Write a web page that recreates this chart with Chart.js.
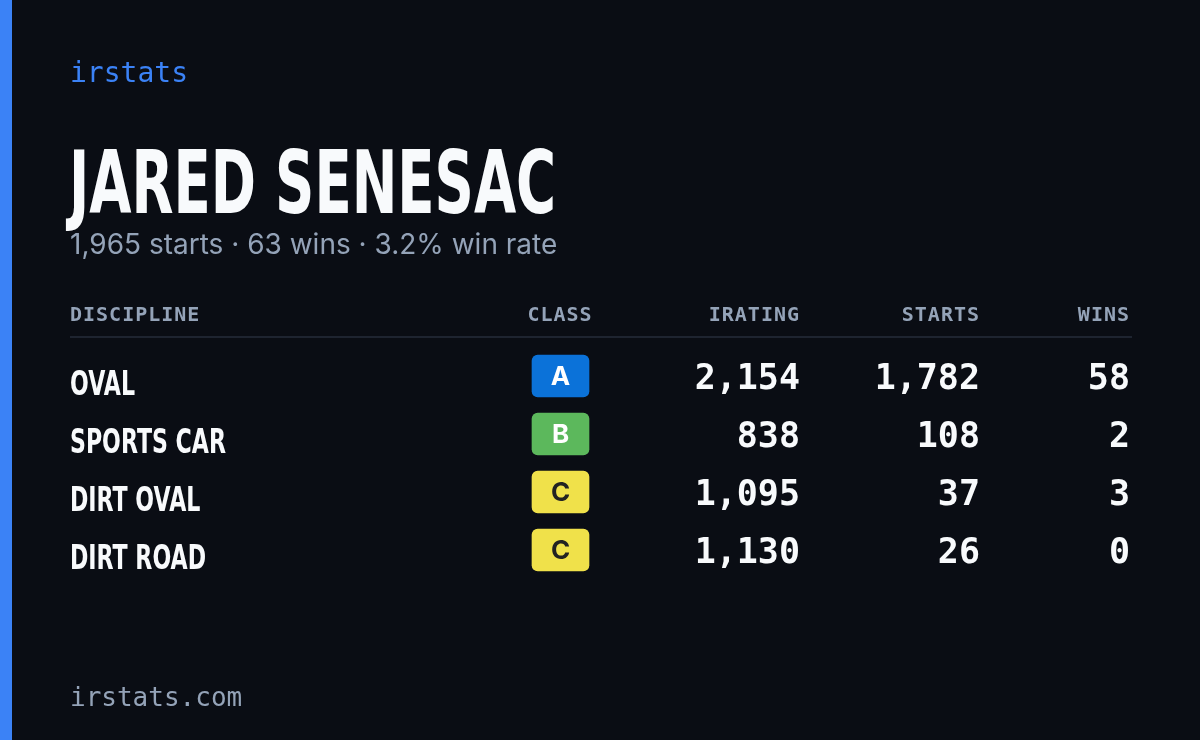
<!DOCTYPE html>
<html>
<head>
<meta charset="utf-8">
<script src="https://cdn.jsdelivr.net/npm/chart.js@4/dist/chart.umd.min.js"></script>
<style>
  html, body { margin: 0; padding: 0; background: #0a0d14; }
  #wrap { position: relative; width: 1200px; height: 740px; }
</style>
</head>
<body>
<div id="wrap"><canvas id="card" width="1200" height="740"></canvas></div>
<script>
const driverName = "JARED SENESAC";
const summary = "1,965 starts · 63 wins · 3.2% win rate";
const columns = ["DISCIPLINE", "CLASS", "IRATING", "STARTS", "WINS"];
const disciplines = ["OVAL", "SPORTS CAR", "DIRT OVAL", "DIRT ROAD"];
const licenseClass = ["A", "B", "C", "C"];
const iratings = ["2,154", "838", "1,095", "1,130"];
const starts = ["1,782", "108", "37", "26"];
const wins = ["58", "2", "3", "0"];

const classColors = { A: "#0b72d9", B: "#5cb85c", C: "#f0e14a" };
const classText = { A: "#ffffff", B: "#ffffff", C: "#222222" };

const MONO = '"DejaVu Sans Mono", "Liberation Mono", monospace';
const BOLD = '"DejaVu Sans", sans-serif';

// no condensed face installed, so squeeze a bold one horizontally
function narrowText(ctx, text, x, y, sx) {
  ctx.save();
  ctx.translate(x, y);
  ctx.scale(sx, 1);
  ctx.fillText(text, 0, 0);
  ctx.restore();
}

const cardText = {
  id: "cardText",
  beforeDraw(chart) {
    const ctx = chart.ctx;
    ctx.save();
    ctx.fillStyle = "#0a0d14";
    ctx.fillRect(0, 0, chart.width, chart.height);
    ctx.fillStyle = "#3b82f6";
    ctx.fillRect(0, 0, 12, chart.height);
    ctx.restore();
  },
  afterDraw(chart) {
    const ctx = chart.ctx;
    const y = chart.scales.y;
    const bars = chart.getDatasetMeta(0).data;
    ctx.save();
    ctx.textBaseline = "alphabetic";

    ctx.fillStyle = "#3b82f6";
    ctx.font = "28px " + MONO;
    ctx.fillText("irstats", 70, 82);

    ctx.fillStyle = "#f8fafc";
    ctx.font = "bold 88px " + BOLD;
    narrowText(ctx, driverName, 69, 213, 0.62);

    ctx.fillStyle = "#94a3b8";
    ctx.font = "28px Inter, sans-serif";
    ctx.fillText(summary, 70, 254);

    ctx.font = "bold 20px " + MONO;
    ctx.letterSpacing = "1px";
    const headX = [70, 560, 800, 980, 1130];
    const headAlign = ["left", "center", "right", "right", "right"];
    columns.forEach((c, i) => {
      ctx.textAlign = headAlign[i];
      ctx.fillText(c, headX[i], 321);
    });
    ctx.letterSpacing = "0px";
    ctx.fillStyle = "#1e2430";
    ctx.fillRect(70, 336, 1062, 2);

    disciplines.forEach((d, i) => {
      const py = y.getPixelForValue(i);
      ctx.textAlign = "left";
      ctx.fillStyle = "#f8fafc";
      ctx.font = "bold 34px " + BOLD;
      narrowText(ctx, d, 70, py + 19, 0.65);

      ctx.textAlign = "center";
      ctx.fillStyle = classText[licenseClass[i]];
      ctx.font = "bold 26px Inter, sans-serif";
      ctx.fillText(licenseClass[i], bars[i].x - 28.5, py + 9);

      ctx.textAlign = "right";
      ctx.fillStyle = "#f8fafc";
      ctx.font = "bold 35px " + MONO;
      ctx.fillText(iratings[i], 800, py + 13);
      ctx.fillText(starts[i], 980, py + 13);
      ctx.fillText(wins[i], 1130, py + 13);
    });

    ctx.textAlign = "left";
    ctx.fillStyle = "#94a3b8";
    ctx.font = "26px " + MONO;
    ctx.fillText("irstats.com", 70, 706);
    ctx.restore();
  }
};

new Chart(document.getElementById("card"), {
  type: "bar",
  data: {
    labels: disciplines,
    datasets: [{
      data: disciplines.map(() => [532, 589]),
      backgroundColor: licenseClass.map((c) => classColors[c]),
      borderRadius: 6,
      borderSkipped: false,
      barThickness: 42
    }]
  },
  options: {
    indexAxis: "y",
    responsive: false,
    animation: false,
    layout: { padding: { top: 347, bottom: 161, left: 0, right: 0 } },
    plugins: { legend: { display: false }, tooltip: { enabled: false } },
    scales: {
      x: { type: "linear", min: 0, max: 1200, display: false },
      y: { type: "category", display: false, offset: true }
    }
  },
  plugins: [cardText]
});
</script>
</body>
</html>
